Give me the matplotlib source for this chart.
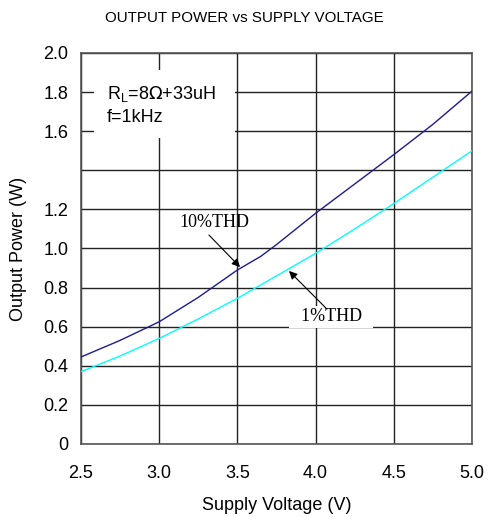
import numpy as np
import matplotlib
matplotlib.use('Agg')
import matplotlib.pyplot as plt

# supply voltage (V) and output power (W)
voltage_10 = [2.5, 2.75, 3.0, 3.25, 3.5, 3.65, 3.75, 4.0, 4.25, 4.5, 4.75, 5.0]
power_10 = [0.445, 0.53, 0.625, 0.75, 0.89, 0.96, 1.02, 1.18, 1.33, 1.48, 1.635, 1.805]

voltage_1 = [2.5, 2.75, 3.0, 3.25, 3.5, 3.75, 4.0, 4.25, 4.5, 4.75, 5.0]
power_1 = [0.37, 0.45, 0.54, 0.64, 0.745, 0.86, 0.975, 1.10, 1.23, 1.365, 1.50]

x_ticks = [2.5, 3.0, 3.5, 4.0, 4.5, 5.0]
x_labels = ['2.5', '3.0', '3.5', '4.0', '4.5', '5.0']
y_ticks = [0, 0.2, 0.4, 0.6, 0.8, 1.0, 1.2, 1.4, 1.6, 1.8, 2.0]
y_labels = ['0', '0.2', '0.4', '0.6', '0.8', '1.0', '1.2', '', '1.6', '1.8', '2.0']

plt.rcParams['font.family'] = ['Liberation Sans', 'DejaVu Sans']

fig = plt.figure(figsize=(4.89, 5.17), dpi=100)
ax = fig.add_axes([0.1656, 0.1412, 0.7996, 0.7563])

ax.plot(voltage_10, power_10, color='#1c1c8c', lw=1.0, zorder=3)
ax.plot(voltage_1, power_1, color='#00ffff', lw=1.0, zorder=3)

ax.set_xlim(2.5, 5.0)
ax.set_ylim(0, 2.0)
ax.set_xticks(x_ticks)
ax.set_xticklabels(x_labels)
ax.set_yticks(y_ticks)
ax.set_yticklabels(y_labels)
ax.tick_params(length=0, labelsize=13)
ax.tick_params(axis='x', pad=15)
ax.tick_params(axis='y', pad=9)
ax.grid(True, color='#222222', lw=1.0, zorder=1)
for s in ax.spines.values():
    s.set_color('#555555')
    s.set_linewidth(1.2)

ax.set_xlabel('Supply Voltage (V)', fontsize=13, labelpad=11)
ax.set_ylabel('Output Power (W)', fontsize=13, labelpad=12)
fig.text(0.5, 0.965, 'OUTPUT POWER vs SUPPLY VOLTAGE', ha='center', va='center', fontsize=10.9)

# condition box
ax.text(2.666, 1.735, r'R$_{\mathregular{L}}$=8$\Omega$+33uH  ' + '\nf=1kHz', fontsize=13,
        va='center', ha='left', linespacing=1.4, zorder=4,
        bbox=dict(facecolor='white', edgecolor='none', pad=9))

# curve labels with arrows
ax.text(3.35, 1.135, '10%THD', ha='center', va='center', fontsize=13,
        family='Liberation Serif', zorder=4)
ax.annotate('', xy=(3.517, 0.905), xytext=(3.318, 1.069), zorder=5,
            arrowprops=dict(arrowstyle='-|>', color='black', lw=0.8, shrinkA=0, shrinkB=0,
                            mutation_scale=12))
ax.text(4.10, 0.65, '  1%THD  ', ha='center', va='center', fontsize=13,
        family='Liberation Serif', zorder=4,
        bbox=dict(facecolor='white', edgecolor='none', pad=2))
ax.annotate('', xy=(3.83, 0.885), xytext=(4.073, 0.69), zorder=5,
            arrowprops=dict(arrowstyle='-|>', color='black', lw=0.8, shrinkA=0, shrinkB=0,
                            mutation_scale=12))

fig.savefig('out.png', dpi=100)
